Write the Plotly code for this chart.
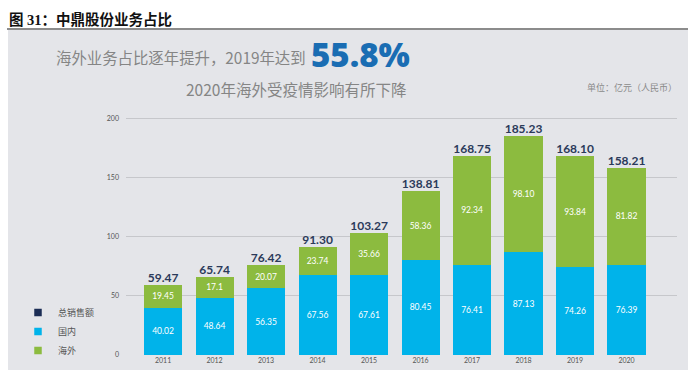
import plotly.graph_objects as go

# ---- data ----
years = ["2011", "2012", "2013", "2014", "2015", "2016", "2017", "2018", "2019", "2020"]
domestic = [40.02, 48.64, 56.35, 67.56, 67.61, 80.45, 76.41, 87.13, 74.26, 76.39]
overseas = [19.45, 17.1, 20.07, 23.74, 35.66, 58.36, 92.34, 98.10, 93.84, 81.82]
total = [59.47, 65.74, 76.42, 91.30, 103.27, 138.81, 168.75, 185.23, 168.10, 158.21]
domestic_text = ["40.02", "48.64", "56.35", "67.56", "67.61", "80.45", "76.41", "87.13", "74.26", "76.39"]
overseas_text = ["19.45", "17.1", "20.07", "23.74", "35.66", "58.36", "92.34", "98.10", "93.84", "81.82"]
total_text = ["59.47", "65.74", "76.42", "91.30", "103.27", "138.81", "168.75", "185.23", "168.10", "158.21"]
y_ticks = [0, 50, 100, 150, 200]

# ---- layout constants (pixels) ----
W, H = 697, 370
L, R, T, B = 126, 677, 107, 355

def px(x):
    return (x - L) / (R - L)

def py(y):
    return (B - y) / (B - T)

BLUE = "#00b3ea"
GREEN = "#8cbb3f"
NAVY = "#1b2d55"
BG = "#e4e5e9"

fig = go.Figure()

fig.add_trace(go.Bar(
    x=years, y=domestic, name="国内", marker=dict(color=BLUE, line=dict(width=0)),
    text=domestic_text, textposition="inside", insidetextanchor="middle",
    textangle=0, textfont=dict(color="white", size=8.5, family="Lato"),
    showlegend=False, hoverinfo="skip",
))
fig.add_trace(go.Bar(
    x=years, y=overseas, name="海外", marker=dict(color=GREEN, line=dict(width=0)),
    text=overseas_text, textposition="inside", insidetextanchor="middle",
    textangle=0, textfont=dict(color="white", size=8.5, family="Lato"),
    showlegend=False, hoverinfo="skip",
))
fig.add_trace(go.Scatter(
    x=years, y=total, mode="text", text=total_text, textposition="top center",
    textfont=dict(color="#2b3a5a", size=12, family="Lato", weight="bold"),
    showlegend=False, hoverinfo="skip", cliponaxis=False,
))

# legend entries
for name, col in [("总销售额", NAVY), ("国内", BLUE), ("海外", GREEN)]:
    fig.add_trace(go.Scatter(
        x=[None], y=[None], mode="markers", name=name,
        marker=dict(symbol="square", size=7.5, color=col),
    ))

shapes = [
    dict(type="rect", xref="paper", yref="paper", x0=px(8), x1=px(688), y0=py(30), y1=py(372),
         fillcolor=BG, line=dict(width=0), layer="below"),
    dict(type="line", xref="paper", yref="paper", x0=px(7), x1=px(688), y0=py(29), y1=py(29),
         line=dict(color="#666666", width=1.5)),
]

annotations = [
    dict(text="<b>图 31：中鼎股份业务占比</b>", xref="paper", yref="paper", x=px(7), y=py(19),
         xanchor="left", yanchor="middle", showarrow=False,
         font=dict(size=14.5, color="#111111", family="Liberation Serif, Noto Sans CJK SC")),
    dict(text="海外业务占比逐年提升，2019年达到", xref="paper", yref="paper", x=px(308), y=py(57),
         xanchor="right", yanchor="middle", showarrow=False,
         font=dict(size=15.4, color="#858585", family="Noto Sans CJK SC")),
    dict(text="55.8%", xref="paper", yref="paper", x=px(309), y=py(55),
         xanchor="left", yanchor="middle", showarrow=False,
         font=dict(size=33, color="#1a6db3", family="Open Sans", weight=800)),
    dict(text="2020年海外受疫情影响有所下降", xref="paper", yref="paper", x=px(408), y=py(89),
         xanchor="right", yanchor="middle", showarrow=False,
         font=dict(size=15.5, color="#858585", family="Noto Sans CJK SC")),
    dict(text="单位：亿元（人民币）", xref="paper", yref="paper", x=px(679), y=py(87),
         xanchor="right", yanchor="middle", showarrow=False,
         font=dict(size=9, color="#8a8a8a", family="Noto Sans CJK SC")),
]

fig.update_layout(
    width=W, height=H,
    margin=dict(l=L, r=W - R, t=T, b=H - B, autoexpand=False),
    paper_bgcolor="white", plot_bgcolor="rgba(0,0,0,0)",
    barmode="stack", bargap=0.26,
    shapes=shapes, annotations=annotations,
    showlegend=True,
    legend=dict(xref="container", yref="container", x=18 / W, y=(H - 298) / H,
                xanchor="left", yanchor="top", bgcolor="rgba(0,0,0,0)",
                font=dict(size=9, color="#555555", family="Noto Sans CJK SC"),
                itemwidth=30, tracegroupgap=0, traceorder="normal"),
    font=dict(family="Lato"),
)
fig.update_xaxes(type="category", range=[-0.72, 9.98], showgrid=False, zeroline=False,
                 showline=False, ticks="", tickfont=dict(size=7, color="#555555"),
                 automargin=False)
fig.update_yaxes(range=[0, 210], tickvals=y_ticks, showgrid=True, gridcolor="#c6c7cb",
                 gridwidth=1, zeroline=False, showline=False, ticks="",
                 tickfont=dict(size=7, color="#555555"), ticklabelstandoff=6,
                 automargin=False)

fig.write_html("out.html", config={"displayModeBar": False},
               post_script="document.body.style.margin='0';document.body.style.overflow='hidden';")
